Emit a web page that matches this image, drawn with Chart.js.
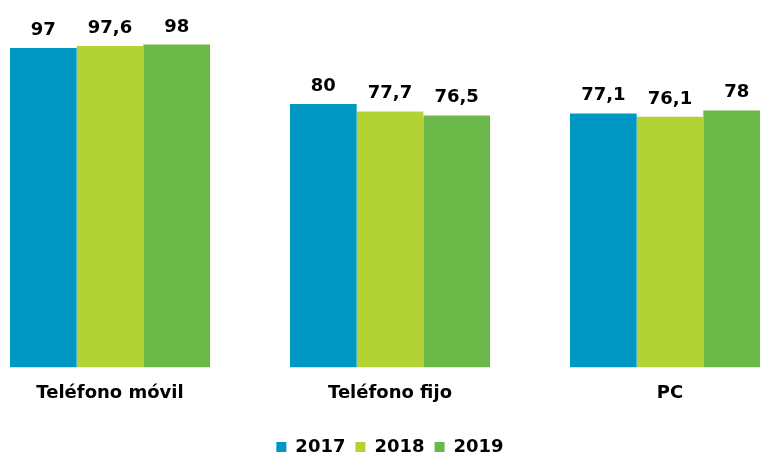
<!DOCTYPE html>
<html>
<head>
<meta charset="utf-8">
<script src="https://cdn.jsdelivr.net/npm/chart.js@4/dist/chart.umd.min.js"></script>
<style>
    html, body { margin: 0; padding: 0; background: #fff; overflow: hidden; }
    #wrap { position: absolute; left: -30px; top: 0; width: 840px; height: 470px; }
</style>
</head>
<body>
<div id="wrap"><canvas id="bar-chart"></canvas></div>
<script>
    // data
    const categories = ['Teléfono móvil', 'Teléfono fijo', 'PC'];
    const years = ['2017', '2018', '2019'];
    const values2017 = [97, 80, 77.1];
    const values2018 = [97.6, 77.7, 76.1];
    const values2019 = [98, 76.5, 78];
    const colors = ['#0098C3', '#B3D236', '#6AB848'];

    const fontFamily = '"DejaVu Sans", Verdana, sans-serif';

    // draw the value above every bar
    const valueLabels = {
        id: 'valueLabels',
        afterDatasetsDraw(chart) {
            const ctx = chart.ctx;
            ctx.save();
            ctx.font = 'bold 18px ' + fontFamily;
            ctx.fillStyle = '#000';
            ctx.textAlign = 'center';
            ctx.textBaseline = 'alphabetic';
            chart.data.datasets.forEach((ds, i) => {
                chart.getDatasetMeta(i).data.forEach((bar, j) => {
                    let txt = String(ds.data[j]).replace('.', ',');
                    ctx.fillText(txt, bar.x, bar.y - 13);
                });
            });
            ctx.restore();
        }
    };

    const barChartData = {
        labels: categories,
        datasets: [
            { label: years[0], data: values2017, backgroundColor: colors[0] },
            { label: years[1], data: values2018, backgroundColor: colors[1] },
            { label: years[2], data: values2019, backgroundColor: colors[2] }
        ]
    };

    const barChartConfig = {
        type: 'bar',
        data: barChartData,
        options: {
            responsive: true,
            maintainAspectRatio: false,
            animation: false,
            categoryPercentage: 200 / 280,
            barPercentage: 1,
            layout: {
                padding: { top: 38, bottom: 4 }
            },
            plugins: {
                legend: {
                    position: 'bottom',
                    labels: {
                        boxWidth: 10,
                        boxHeight: 10,
                        padding: 10,
                        color: '#000',
                        font: { family: fontFamily, size: 18, weight: 'bold' }
                    }
                },
                tooltip: { enabled: false }
            },
            scales: {
                x: {
                    grid: { display: false },
                    border: { display: false },
                    ticks: {
                        color: '#000',
                        padding: 7,
                        font: { family: fontFamily, size: 18, weight: 'bold' }
                    },
                    // extra room between the category labels and the legend
                    afterFit: (scale) => { scale.height += 17; }
                },
                y: {
                    display: false,
                    min: 0,
                    max: 100
                }
            }
        },
        plugins: [valueLabels]
    };

    new Chart(document.getElementById('bar-chart').getContext('2d'), barChartConfig);
</script>
</body>
</html>
